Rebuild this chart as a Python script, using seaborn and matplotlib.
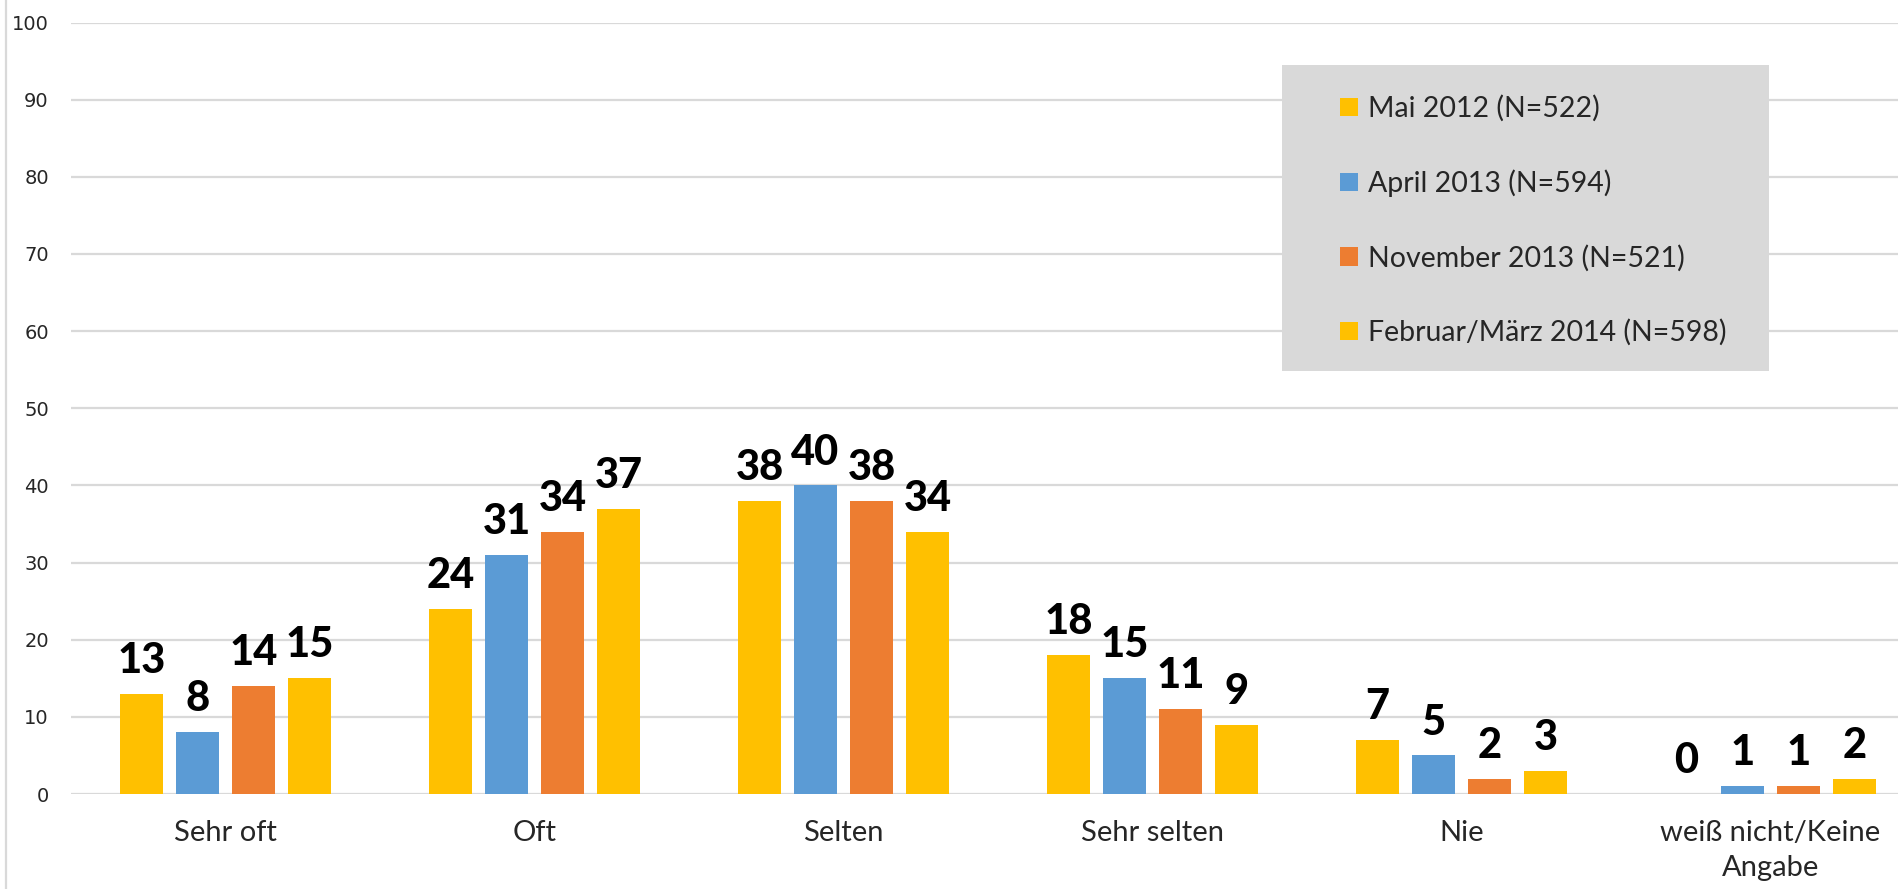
import matplotlib
matplotlib.use('Agg')
import matplotlib.pyplot as plt
from matplotlib.patches import Rectangle
import pandas as pd
import seaborn as sns

# Daten
kategorien = ['Sehr oft', 'Oft', 'Selten', 'Sehr selten', 'Nie', 'weiß nicht/Keine\nAngabe']
wellen = ['Mai 2012 (N=522)', 'April 2013 (N=594)', 'November 2013 (N=521)', 'Februar/März 2014 (N=598)']
mai_2012 = [13, 24, 38, 18, 7, 0]
april_2013 = [8, 31, 40, 15, 5, 1]
november_2013 = [14, 34, 38, 11, 2, 1]
februar_2014 = [15, 37, 34, 9, 3, 2]
farben = ['#FFC000', '#5B9BD5', '#ED7D31', '#FFC000']

werte = [mai_2012, april_2013, november_2013, februar_2014]
df = pd.DataFrame({
    'kategorie': [k for w in wellen for k in kategorien],
    'welle': [w for w in wellen for k in kategorien],
    'wert': [v for reihe in werte for v in reihe],
})

sns.set_theme(style='white')
plt.rcParams['font.family'] = ['Lato', 'DejaVu Sans']

W, H = 1898, 889
fig = plt.figure(figsize=(W / 100, H / 100), dpi=100)
ax = fig.add_axes([71 / W, 95 / H, (1925 - 71) / W, 771.5 / H])

sns.barplot(data=df, x='kategorie', y='wert', hue='welle', hue_order=wellen,
            order=kategorien, palette=dict(zip(wellen, farben)),
            width=0.725, gap=0.216, linewidth=0, saturation=1, ax=ax, zorder=3)

for c in ax.containers:
    ax.bar_label(c, padding=10, fontsize=30, fontweight=900, color='black')

ax.set_ylim(0, 100)
ax.set_xlim(-0.5, 5.5)
ax.set_yticks(range(0, 101, 10))
ax.yaxis.grid(True, color='#D9D9D9', linewidth=1.6, zorder=0)
ax.set_axisbelow(True)
for s in ax.spines.values():
    s.set_visible(False)
ax.set_xlabel('')
ax.set_ylabel('')
ax.tick_params(axis='y', length=0, pad=16, labelsize=14)
ax.tick_params(axis='x', length=0, pad=19, labelsize=21)
for lbl in ax.get_yticklabels():
    lbl.set_fontfamily('DejaVu Sans')
for lbl in ax.get_xticklabels():
    lbl.set_linespacing(1.4)

# Legende mit grauem Kasten
ax.add_patch(Rectangle((1282 / W, 1 - 371 / H), (1769 - 1282) / W, (371 - 65) / H,
                       transform=fig.transFigure, facecolor='#D9D9D9',
                       edgecolor='none', zorder=4, clip_on=False))
handles, labels = ax.get_legend_handles_labels()
leg = ax.legend(handles, labels, loc='upper left', bbox_to_anchor=(1326 / W, 1 - 81 / H),
                bbox_transform=fig.transFigure, frameon=False, fontsize=20.5,
                handlelength=0.62, handleheight=0.62, handletextpad=0.35,
                labelspacing=1.67, borderpad=0)
leg.set_zorder(5)

# linker Rahmen
fig.add_artist(plt.Line2D([6 / W, 6 / W], [0, 1], color='#D9D9D9', linewidth=1.6))

fig.savefig('out.png', dpi=100)
